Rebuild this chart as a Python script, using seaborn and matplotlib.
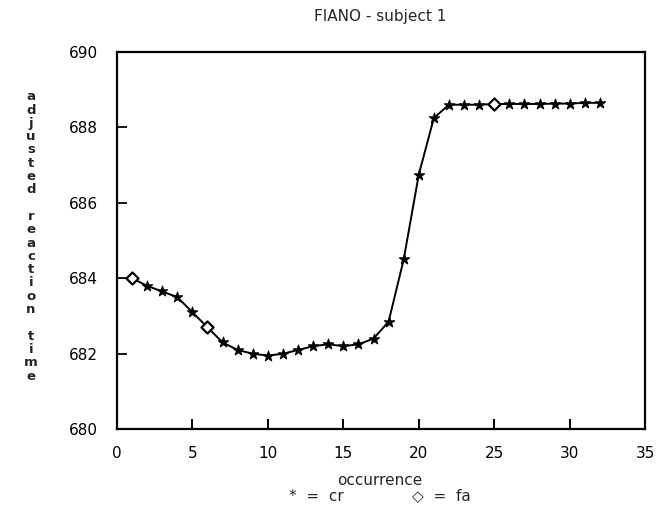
import matplotlib
matplotlib.use("Agg")
import matplotlib.pyplot as plt
import seaborn as sns
import pandas as pd

occurrence = list(range(1, 33))
reaction_time = [684.0, 683.8, 683.65, 683.5, 683.1, 682.7, 682.3, 682.1, 682.0, 681.95,
                 682.0, 682.1, 682.2, 682.25, 682.2, 682.25, 682.4, 682.85, 684.5, 686.75,
                 688.25, 688.6, 688.6, 688.6, 688.62, 688.62, 688.62, 688.62, 688.63, 688.63,
                 688.65, 688.65]
response = ["fa" if o in (1, 6, 25) else "cr" for o in occurrence]

xticks = [0, 5, 10, 15, 20, 25, 30, 35]
yticks = [680, 682, 684, 686, 688, 690]

df = pd.DataFrame({"occurrence": occurrence, "rt": reaction_time, "type": response})
cr = df[df.type == "cr"]
fa = df[df.type == "fa"]

sns.set_style("white")
plt.rcParams['font.family'] = ['DejaVu Sans']
plt.rcParams.update({
    'xtick.bottom': True, 'ytick.left': True,
    'xtick.direction': 'in', 'ytick.direction': 'in',
    'xtick.major.size': 7, 'ytick.major.size': 7,
    'xtick.major.width': 1.3, 'ytick.major.width': 1.3,
    'xtick.color': 'black', 'ytick.color': 'black',
})

fig = plt.figure(figsize=(6.57, 5.14), dpi=100)
ax = fig.add_axes([0.178, 0.165, 0.804, 0.734])

sns.lineplot(data=df, x="occurrence", y="rt", color="black", linewidth=1.4, ax=ax,
             legend=False)
sns.scatterplot(data=cr, x="occurrence", y="rt", marker="*", ax=ax, legend=False,
                color="black", edgecolor="black", s=60, linewidth=0.8, zorder=3)
sns.scatterplot(data=fa, x="occurrence", y="rt", marker="D", ax=ax, legend=False,
                facecolor="white", edgecolor="black", s=38, linewidth=1.6, zorder=4)

ax.set_xlim(0, 35)
ax.set_ylim(680, 690)
ax.set_xticks(xticks)
ax.set_yticks(yticks)
ax.tick_params(axis="both", which="major", labelsize=11, colors="black")
ax.tick_params(axis="x", pad=12, bottom=True)
ax.tick_params(axis="y", pad=14, left=True)
# inward x tick marks drawn in axes-fraction height at the tick positions
ax.vlines(xticks[1:-1], 0, 0.026, transform=ax.get_xaxis_transform(),
          color="black", linewidth=1.3, zorder=5)
for s in ax.spines.values():
    s.set_color("black")
    s.set_linewidth(1.6)
ax.set_xlabel("")
ax.set_ylabel("")

fig.text(0.578, 0.968, "FIANO - subject 1", ha="center", va="center", fontsize=11)
fig.text(0.578, 0.065, "occurrence", ha="center", va="center", fontsize=11)
fig.text(0.578, 0.035, "*  =  cr              \u25C7  =  fa", ha="center", va="center", fontsize=11)

label = "adjusted reaction time"
fig.text(0.047, 0.54, "\n".join(label), ha="center", va="center", fontsize=9.5,
         fontweight="bold", linespacing=1.03)

fig.savefig("out.png", dpi=100)
